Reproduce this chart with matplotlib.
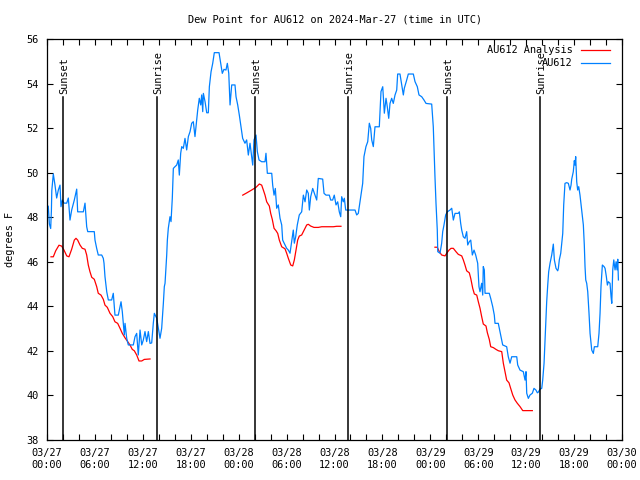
import matplotlib
matplotlib.use("Agg")
import matplotlib.pyplot as plt
from matplotlib.ticker import MultipleLocator

# hours since 2024-03-27 00:00 UTC
obs_hours = [0.16, 0.3, 0.46, 0.55, 0.6, 0.79, 1.0, 1.21, 1.42, 1.63, 1.75, 1.92, 2.13, 2.47, 2.67, 2.88,
             3.09, 3.42, 3.72, 3.84, 4.55, 4.76, 4.97, 5.1, 5.92, 6.01, 6.22, 6.42, 6.85, 7.05, 7.14, 7.26,
             7.48, 7.68, 8.1, 8.3, 8.51, 8.93, 9.27, 9.43, 9.68, 9.77, 9.98, 10.18, 10.81, 11.02, 11.23,
             11.43, 11.65, 11.86, 12.06, 12.27, 12.48, 12.69, 12.9, 13.11, 13.31, 13.44, 13.74, 13.94,
             14.15, 14.36, 14.57, 14.69, 14.78, 14.99, 15.07, 15.19, 15.4, 15.53, 15.69, 15.82, 16.03,
             16.24, 16.44, 16.57, 16.74, 16.87, 17.07, 17.28, 17.49, 17.7, 17.91, 18.12, 18.32, 18.53,
             18.75, 18.87, 19.07, 19.25, 19.37, 19.5, 19.58, 19.79, 20.0, 20.2, 20.33, 20.54, 20.75,
             20.95, 21.54, 21.75, 21.95, 22.16, 22.41, 22.58, 22.76, 22.92, 23.04, 23.13, 23.54, 23.67,
             23.88, 24.08, 24.29, 24.5, 24.79, 25.0, 25.21, 25.42, 25.63, 25.76, 25.92, 26.17, 26.34,
             26.55, 26.88, 27.3, 27.42, 27.59, 28.14, 28.26, 28.43, 28.59, 28.76, 28.96, 29.18, 29.39,
             29.51, 29.8, 30.01, 30.22, 30.43, 30.64, 30.84, 30.97, 31.14, 31.34, 31.59, 31.89, 32.1,
             32.31, 32.52, 32.72, 32.85, 33.02, 33.27, 33.56, 33.77, 33.97, 34.52, 34.69, 34.94, 35.35,
             35.52, 35.77, 35.97, 36.19, 36.4, 36.6, 36.78, 36.9, 37.1, 37.23, 37.4, 38.57, 38.78, 38.98,
             39.28, 39.53, 39.69, 39.94, 40.16, 40.36, 40.53, 40.66, 40.86, 41.07, 41.61, 41.82, 42.04,
             42.24, 42.45, 42.61, 42.79, 42.95, 43.16, 43.36, 43.58, 43.79, 43.91, 44.2, 44.42, 44.62,
             44.74, 45.04, 45.24, 45.87, 46.08, 46.37, 46.58, 46.92, 47.21, 47.46, 48.17, 48.37, 48.58,
             48.71, 48.87, 48.93, 49.21, 49.42, 49.55, 49.71, 49.92, 50.13, 50.46, 50.68, 50.88, 51.09,
             51.5, 51.63, 51.8, 51.93, 52.13, 52.34, 52.55, 52.68, 52.88, 53.06, 53.26, 53.47, 53.68,
             53.93, 54.09, 54.22, 54.43, 54.56, 54.63, 54.76, 54.85, 55.38, 55.56, 55.81, 56.01, 56.1,
             56.51, 56.72, 57.06, 57.56, 57.76, 57.98, 58.19, 58.82, 58.94, 59.23, 59.64, 59.86, 59.98,
             60.07, 60.27, 60.48, 60.77, 60.98, 61.23, 61.4, 61.52, 61.73, 61.95, 62.07, 62.24, 62.36,
             62.45, 62.57, 62.7, 62.82, 62.99, 63.2, 63.33, 63.4, 63.53, 63.74, 63.95, 64.03, 64.15,
             64.33, 64.45, 64.58, 64.7, 64.86, 65.08, 65.28, 65.49, 65.62, 65.7, 65.9, 66.03, 66.12,
             66.2, 66.33, 66.45, 66.58, 66.74, 66.95, 67.16, 67.28, 67.37, 67.46, 67.58, 67.71, 67.87,
             68.0, 68.21, 68.41, 68.54, 68.96, 69.12, 69.25, 69.37, 69.54, 69.75, 69.88, 70.04, 70.17,
             70.29, 70.5, 70.63, 70.72, 70.84, 70.97, 71.13, 71.26, 71.38, 71.47, 71.55]
obs_dewpt = [48.5, 47.7, 47.5, 48.3, 49.2, 49.95, 49.45, 48.87, 49.23, 49.45, 48.48, 48.78, 48.64, 48.64,
             48.87, 47.88, 48.33, 48.78, 49.27, 48.25, 48.25, 48.64, 47.58, 47.36, 47.36, 46.98, 46.61,
             46.31, 46.31, 46.16, 45.94, 45.34, 44.66, 44.29, 44.29, 44.59, 43.61, 43.61, 44.21, 43.76,
             42.72, 43.24, 42.57, 42.27, 42.27, 42.64, 42.79, 41.82, 42.94, 42.27, 42.49, 42.87, 42.42,
             42.87, 42.34, 42.36, 43.24, 43.69, 43.47, 43.02, 42.57, 43.02, 44.14, 44.89, 45.04, 46.31,
             46.98, 47.51, 48.03, 47.81, 48.86, 50.2, 50.28, 50.35, 50.58, 49.9, 50.88, 51.18, 51.1,
             51.55, 51.03, 51.63, 51.85, 52.23, 52.3, 51.63, 52.37, 52.82, 53.35, 53.05, 53.5, 52.75,
             53.57, 53.2, 52.7, 52.7, 53.87, 54.54, 54.92, 55.4, 55.4, 54.92, 54.47, 54.65, 54.62, 54.92,
             54.47, 53.05, 53.57, 53.95, 53.95, 53.42, 53.05, 52.6, 52.07, 51.55, 51.33, 51.48, 50.8,
             51.33, 50.73, 50.35, 51.48, 51.7, 50.95, 50.58, 50.5, 50.5, 50.88, 49.98, 49.98, 49.45,
             49.0, 49.3, 48.41, 48.56, 47.96, 47.66, 46.98, 46.76, 46.61, 46.53, 46.39, 46.91, 47.43,
             46.84, 47.13, 47.66, 48.11, 48.25, 49.0, 48.7, 49.23, 49.08, 48.33, 48.93, 49.3, 49.0, 48.78,
             49.75, 49.72, 49.08, 49.0, 49.0, 48.78, 48.78, 49.0, 48.56, 48.7, 48.25, 48.03, 48.93, 48.7,
             48.86, 48.33, 48.33, 48.11, 48.18, 48.93, 49.53, 50.73, 51.18, 51.4, 52.23, 52.0, 51.48,
             51.18, 52.07, 52.07, 53.65, 53.87, 52.68, 53.35, 52.97, 52.45, 53.12, 53.35, 53.12, 53.5,
             53.72, 54.44, 54.44, 53.95, 53.5, 53.8, 54.17, 54.44, 54.44, 54.1, 53.87, 53.5, 53.42,
             53.27, 53.12, 53.09, 52.07, 49.83, 48.63, 47.43, 46.46, 46.39, 46.84, 47.36, 47.66, 48.11,
             48.25, 48.33, 48.41, 47.88, 48.18, 48.18, 48.25, 47.73, 47.43, 47.13, 47.06, 47.36, 46.76,
             46.91, 46.98, 46.31, 46.53, 46.31, 45.94, 44.89, 44.66, 45.04, 44.51, 45.79, 45.64, 44.59,
             44.59, 44.36, 43.99, 43.61, 43.24, 43.24, 42.87, 42.27, 42.19, 41.74, 41.45, 41.74, 41.74,
             41.37, 41.14, 41.07, 40.69, 41.07, 40.1, 39.87, 40.02, 40.1, 40.32, 40.24, 40.12, 40.15,
             40.28, 40.32, 40.69, 41.45, 42.49, 43.39, 44.21, 44.96, 45.56, 45.94, 46.31, 46.61, 46.8,
             46.09, 45.71, 45.6, 45.71, 46.09, 46.39, 46.84, 47.28, 48.56, 49.53, 49.56, 49.53, 49.23,
             49.45, 49.71, 50.05, 50.55, 50.35, 50.73, 49.6, 49.23, 49.38, 49.0, 48.33, 47.66, 46.76,
             45.79, 45.19, 45.04, 44.66, 43.69, 42.79, 42.04, 41.89, 42.19, 42.19, 42.79, 43.69, 44.89,
             45.86, 45.79, 45.71, 45.34, 44.96, 45.11, 45.04, 44.44, 44.14, 45.64, 46.09, 45.64, 46.01,
             45.64, 46.12, 45.19]

ana1_hours = [0.5, 0.79, 1.09, 1.5, 1.84, 2.13, 2.47, 2.75, 3.09, 3.42, 3.63, 3.84, 4.13, 4.42, 4.76,
              4.97, 5.17, 5.38, 5.6, 5.92, 6.22, 6.42, 6.76, 7.05, 7.26, 7.55, 7.89, 8.23, 8.51, 8.85,
              9.14, 9.43, 9.77, 10.1, 10.39, 10.68, 10.93, 11.23, 11.52, 11.86, 12.18, 12.9]
ana1_dewpt = [46.23, 46.23, 46.5, 46.75, 46.71, 46.53, 46.27, 46.23, 46.57, 46.98, 47.06, 46.98, 46.76,
              46.61, 46.57, 46.31, 45.86, 45.56, 45.31, 45.22, 44.89, 44.59, 44.51, 44.32, 44.06, 43.96,
              43.69, 43.54, 43.31, 43.24, 43.02, 42.79, 42.59, 42.42, 42.27, 42.07, 42.01, 41.82, 41.55,
              41.55, 41.62, 41.64]
ana2_hours = [24.51, 25.01, 25.63, 26.17, 26.59, 26.88, 27.09, 27.3, 27.51, 27.84, 28.01, 28.21, 28.43,
              28.68, 28.89, 29.09, 29.39, 29.8, 30.01, 30.22, 30.52, 30.77, 30.97, 31.18, 31.39, 31.59,
              31.89, 32.1, 32.31, 32.52, 32.72, 33.02, 33.43, 33.97, 34.4, 35.85, 36.28, 36.81]
ana2_dewpt = [49.0, 49.1, 49.23, 49.35, 49.5, 49.45, 49.23, 49.0, 48.7, 48.51, 48.18, 47.91, 47.51, 47.4,
              47.28, 46.98, 46.68, 46.59, 46.39, 46.16, 45.86, 45.82, 46.09, 46.53, 46.98, 47.16, 47.21,
              47.36, 47.51, 47.66, 47.69, 47.61, 47.55, 47.55, 47.58, 47.58, 47.6, 47.6]
ana3_hours = [48.58, 48.87, 49.12, 49.42, 49.84, 50.05, 50.34, 50.59, 50.88, 51.21, 51.5, 51.93, 52.13,
              52.34, 52.55, 52.88, 53.06, 53.31, 53.51, 53.81, 54.01, 54.22, 54.43, 54.63, 54.97, 55.14,
              55.38, 55.56, 55.89, 56.22, 56.51, 56.94, 57.14, 57.35, 57.56, 57.85, 58.06, 58.32, 58.6,
              58.89, 59.23, 59.57, 60.77]
ana3_dewpt = [46.66, 46.66, 46.46, 46.31, 46.27, 46.39, 46.53, 46.61, 46.61, 46.46, 46.34, 46.27, 46.09,
              45.86, 45.6, 45.51, 45.26, 44.81, 44.56, 44.51, 44.21, 43.92, 43.54, 43.21, 43.12, 42.82,
              42.52, 42.19, 42.15, 42.07, 42.01, 41.97, 41.45, 41.07, 40.69, 40.57, 40.32, 40.02, 39.8,
              39.65, 39.5, 39.32, 39.32]

event_hours = [2.04, 13.8, 26.08, 37.73, 50.12, 61.78]
event_names = ["Sunset", "Sunrise", "Sunset", "Sunrise", "Sunset", "Sunrise"]

xtick_hours = [0, 6, 12, 18, 24, 30, 36, 42, 48, 54, 60, 66, 72]
xtick_labels = ["03/27\n00:00", "03/27\n06:00", "03/27\n12:00", "03/27\n18:00",
                "03/28\n00:00", "03/28\n06:00", "03/28\n12:00", "03/28\n18:00",
                "03/29\n00:00", "03/29\n06:00", "03/29\n12:00", "03/29\n18:00",
                "03/30\n00:00"]

FONT = "DejaVu Sans Mono"
FS = 7.4
plt.rcParams['font.family'] = FONT
plt.rcParams['font.size'] = FS

fig = plt.figure(figsize=(6.4, 4.8), dpi=100)
ax = fig.add_axes([47/640, 40/480, 575/640, 400.7/480])

red = "#ff0000"
blue = "#0080ff"
lw = 0.9
ax.plot(ana1_hours, ana1_dewpt, color=red, lw=lw, label="AU612 Analysis")
ax.plot(ana2_hours, ana2_dewpt, color=red, lw=lw)
ax.plot(ana3_hours, ana3_dewpt, color=red, lw=lw)
ax.plot(obs_hours, obs_dewpt, color=blue, lw=lw, label="AU612")

for h, name in zip(event_hours, event_names):
    ax.plot([h, h], [38, 53.4], color="black", lw=1.1)
    ax.text(h + 0.1, 53.55, name, rotation=90, ha="center", va="bottom", fontsize=FS)

ax.set_xlim(0, 72)
ax.set_ylim(38, 56)
ax.set_xticks(xtick_hours)
ax.set_xticklabels(xtick_labels, linespacing=1.25)
ax.xaxis.set_minor_locator(MultipleLocator(2))
ax.yaxis.set_major_locator(MultipleLocator(2))
ax.tick_params(which="both", direction="in", top=True, right=True, length=4.5, width=0.8, labelsize=FS)
ax.tick_params(axis="x", pad=6)
ax.tick_params(axis="y", pad=6)
for s in ax.spines.values():
    s.set_linewidth(0.9)

ax.set_ylabel("degrees F", fontsize=FS, labelpad=8)
ax.set_title("Dew Point for AU612 on 2024-Mar-27 (time in UTC)", fontsize=FS, pad=12)

leg = ax.legend(loc="upper right", frameon=False, fontsize=FS, markerfirst=False,
                handlelength=2.9, handletextpad=0.75, borderaxespad=0.0, labelspacing=0.28,
                bbox_to_anchor=(0.987, 0.995))

fig.savefig("out.png", dpi=100)
